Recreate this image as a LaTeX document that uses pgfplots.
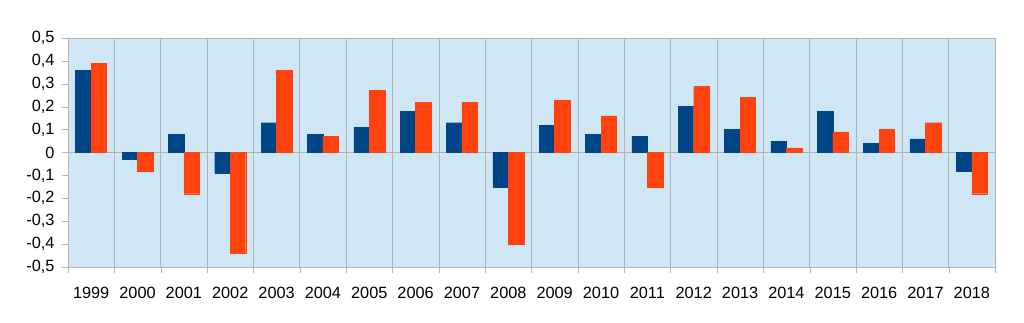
\documentclass[border=0pt]{standalone}
\usepackage{pgfplots}
\pgfplotsset{compat=1.18}
\usepackage{fontspec}
\setmainfont{Liberation Sans}
\definecolor{cblue}{HTML}{004586}
\definecolor{corange}{HTML}{FF420E}
\definecolor{bgblue}{HTML}{CFE6F4}
\definecolor{gridgray}{HTML}{B3B3B3}
\begin{document}
\begin{tikzpicture}
\useasboundingbox (0,0) rectangle (1024bp,323bp);
\begin{axis}[
  at={(68bp,56bp)}, anchor=south west,
  scale only axis,
  width=927bp, height=229bp,
  xmin=-0.5, xmax=19.5,
  ymin=-0.5, ymax=0.5,
  ybar=0pt, bar width=15.5bp,
  axis background/.style={fill=bgblue},
  axis line style={gridgray},
  xtick={0,...,19},
  xticklabels={1999,2000,2001,2002,2003,2004,2005,2006,2007,2008,2009,2010,2011,2012,2013,2014,2015,2016,2017,2018},
  major x tick style={draw=none},
  minor xtick={-0.5,0.5,...,19.5},
  minor x tick style={gridgray},
  xminorgrids,
  minor grid style={gridgray, line width=0.6pt},
  minor tick length=6bp,
  tick align=outside,
  xtick pos=bottom, ytick pos=left,
  ytick={-0.5,-0.4,...,0.5},
  major y tick style={gridgray},
  major tick length=6bp,
  extra y ticks={0}, extra y tick labels={},
  extra y tick style={grid=major, major grid style={gridgray, line width=0.6pt}, major tick length=0pt},
  /pgf/number format/use comma,
  /pgf/number format/fixed,
  /pgf/number format/precision=1,
  /pgf/number format/assume math mode=true,
  tick label style={font=\fontsize{16.3bp}{19bp}\selectfont, text=black},
  xticklabel style={yshift=-11bp},
  yticklabel style={xshift=-4bp},
  enlargelimits=false,
]
\addplot[fill=cblue, draw=cblue] coordinates {
(0,0.36) (1,-0.03) (2,0.08) (3,-0.09) (4,0.13) (5,0.08) (6,0.11) (7,0.18) (8,0.13) (9,-0.15)
(10,0.12) (11,0.08) (12,0.07) (13,0.20) (14,0.10) (15,0.05) (16,0.18) (17,0.04) (18,0.06) (19,-0.08)};
\addplot[fill=corange, draw=corange] coordinates {
(0,0.39) (1,-0.08) (2,-0.18) (3,-0.44) (4,0.36) (5,0.07) (6,0.27) (7,0.22) (8,0.22) (9,-0.40)
(10,0.23) (11,0.16) (12,-0.15) (13,0.29) (14,0.24) (15,0.02) (16,0.09) (17,0.10) (18,0.13) (19,-0.18)};
\end{axis}
\end{tikzpicture}
\end{document}
